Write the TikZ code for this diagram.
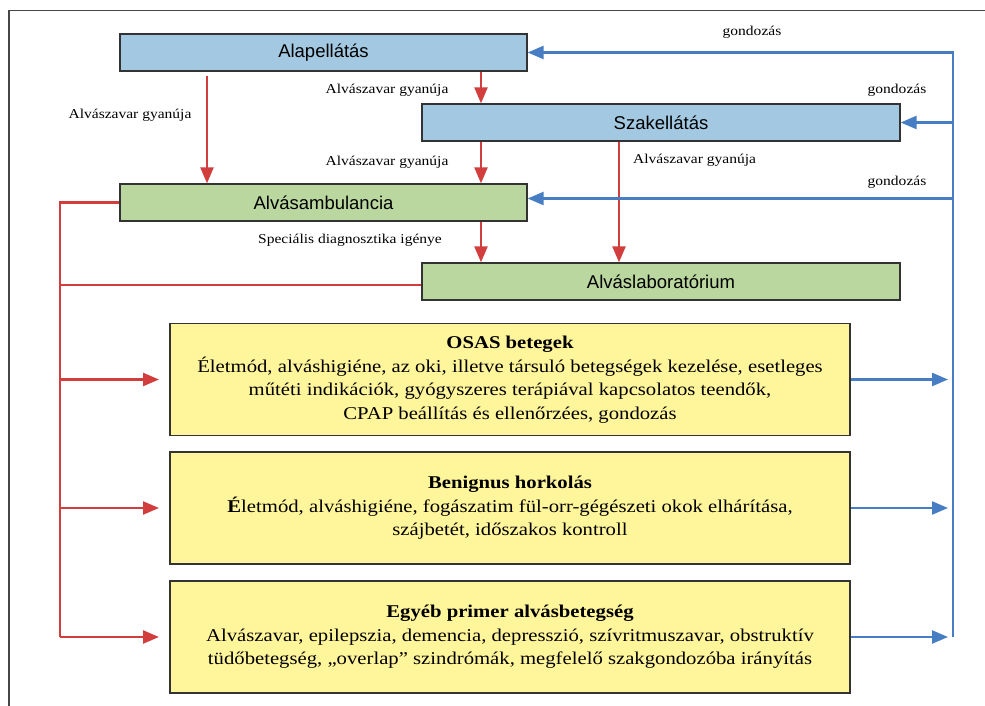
\documentclass[tikz,border=0pt]{standalone}
\usepackage{fontspec}
\setmainfont{Liberation Serif}[FakeStretch=1.15]
\setsansfont{Liberation Sans}
\usetikzlibrary{arrows.meta}

\definecolor{carebox}{RGB}{163,201,226}
\definecolor{labbox}{RGB}{185,215,158}
\definecolor{patbox}{RGB}{255,245,155}
\definecolor{referred}{RGB}{210,62,62}
\definecolor{followup}{RGB}{70,125,195}
\definecolor{framegray}{RGB}{70,70,70}

\begin{document}
\begin{tikzpicture}
[ x=1pt, y=-1pt
, level/.style={rectangle, draw=black!80, line width=1.3pt, minimum height=37pt, font=\sffamily\fontsize{18.5}{20}\selectfont}
, primary/.style={level, fill=carebox}
, sleep/.style={level, fill=labbox}
, patient/.style={rectangle, draw=black!80, line width=1.3pt, fill=patbox, minimum width=680pt, minimum height=112pt, align=center, font=\fontsize{18}{23.5}\selectfont}
, flowtag/.style={font=\fontsize{13.5}{15}\selectfont, inner sep=1pt}
, redline/.style={draw=referred, line width=2.4pt}
, redarrow/.style={redline, -{Triangle[length=16pt,width=13pt]}}
, bluearrow/.style={draw=followup, line width=2.4pt, -{Triangle[length=16pt,width=13pt]}}
]
\useasboundingbox (0,0) rectangle (985,706);
\draw [framegray, line width=1.8pt] (9,706) -- (9,10.5) -- (985,10.5);

% Ellatasi szintek
\node (alap) [primary, minimum width=407pt] at (323.5,52.5) {Alapellátás};
\node (szak) [primary, minimum width=478pt] at (661,122.5) {Szakellátás};
\node (amb)  [sleep, minimum width=407pt] at (323.5,202.5) {Alvásambulancia};
\node (lab)  [sleep, minimum width=478pt] at (661,281.5) {Alváslaboratórium};

% Betegcsoportok
\node (osas) [patient] at (510,379.5) {\textbf{OSAS betegek}\\
  Életmód, alváshigiéne, az oki, illetve társuló betegségek kezelése, esetleges\\
  műtéti indikációk, gyógyszeres terápiával kapcsolatos teendők,\\
  CPAP beállítás és ellenőrzées, gondozás};
\node (horkol) [patient] at (510,508) {\textbf{Benignus horkolás}\\
  \textbf{É}letmód, alváshigiéne, fogászatim fül-orr-gégészeti okok elhárítása,\\
  szájbetét, időszakos kontroll};
\node (egyeb) [patient] at (510,637) {\textbf{Egyéb primer alvásbetegség}\\
  Alvászavar, epilepszia, demencia, depresszió, szívritmuszavar, obstruktív\\
  tüdőbetegség, „overlap” szindrómák, megfelelő szakgondozóba irányítás};

% Oszlopok
\coordinate (mid) at (481,0);
\coordinate (side) at (207,0);
\coordinate (right) at (619,0);
\coordinate (bus) at (60,0);
\coordinate (care) at (953,0);
\coordinate (careend) at (948,0);
\coordinate (busend) at (159,0);

% Beutalas
\draw [redarrow] (alap.south -| mid) -- (szak.north -| mid);
\draw [redarrow] ([yshift=-4pt]alap.south -| side) -- (amb.north -| side);
\draw [redarrow] (szak.south -| mid) -- (amb.north -| mid);
\draw [redarrow] (szak.south -| right) -- (lab.north -| right);
\draw [redarrow] (amb.south -| mid) -- (lab.north -| mid);
\draw [redline] (amb.west) -- (amb.west -| bus) -- (bus |- egyeb);
\draw [redline] ([yshift=-3.5pt]lab.west) -- ([yshift=-3.5pt]lab.west -| bus);
\draw [redarrow] (bus |- osas) -- (busend |- osas);
\draw [redarrow] (bus |- horkol) -- (busend |- horkol);
\draw [redarrow] (bus |- egyeb) -- (busend |- egyeb);

% Gondozas
\draw [bluearrow] (care |- egyeb) -- (care |- alap) -- (alap.east);
\draw [bluearrow] (care |- szak) -- (szak.east);
\draw [bluearrow] ([yshift=4pt]care |- amb) -- ([yshift=4pt]amb.east);
\draw [bluearrow] (osas.east) -- (careend |- osas);
\draw [bluearrow] (horkol.east) -- (careend |- horkol);
\draw [bluearrow] (egyeb.east) -- (careend |- egyeb);

% Feliratok
\node (t1) [flowtag] at (387,90) {Alvászavar gyanúja};
\node (t2) [flowtag] at (130,115) {Alvászavar gyanúja};
\node (t3) [flowtag] at (387,162) {Alvászavar gyanúja};
\node (t4) [flowtag, anchor=west] at (632,160) {Alvászavar gyanúja};
\node (t5) [flowtag] at (350,240) {Speciális diagnosztika igénye};
\node (g1) [flowtag] at (752,32) {gondozás};
\node (g2) [flowtag] at (897,90) {gondozás};
\node (g3) [flowtag] at (897,182) {gondozás};
\end{tikzpicture}
\end{document}
